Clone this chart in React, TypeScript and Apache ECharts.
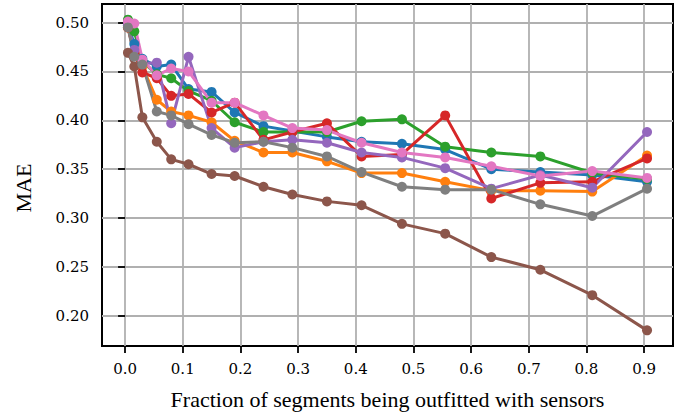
import React, { useEffect, useRef } from "react";
import * as echarts from "echarts";

const fractions = [0.005, 0.016, 0.03, 0.055, 0.08, 0.11, 0.15, 0.19, 0.24, 0.29, 0.35, 0.41, 0.48, 0.555, 0.635, 0.72, 0.81, 0.905];

const blueMAE = [0.497, 0.478, 0.463, 0.455, 0.457, 0.432, 0.429, 0.408, 0.394, 0.389, 0.383, 0.378, 0.376, 0.370, 0.350, 0.347, 0.344, 0.337];
const orangeMAE = [0.495, 0.470, 0.455, 0.421, 0.409, 0.405, 0.398, 0.379, 0.367, 0.367, 0.358, 0.346, 0.346, 0.337, 0.328, 0.328, 0.327, 0.364];
const greenMAE = [0.503, 0.491, 0.460, 0.447, 0.443, 0.430, 0.420, 0.398, 0.388, 0.388, 0.388, 0.399, 0.401, 0.373, 0.367, 0.363, 0.346, 0.340];
const redMAE = [0.495, 0.468, 0.449, 0.443, 0.425, 0.427, 0.408, 0.418, 0.380, 0.388, 0.397, 0.363, 0.365, 0.405, 0.320, 0.336, 0.337, 0.361];
const purpleMAE = [0.497, 0.472, 0.458, 0.459, 0.397, 0.465, 0.392, 0.372, 0.378, 0.380, 0.377, 0.367, 0.362, 0.351, 0.330, 0.344, 0.331, 0.388];
const brownMAE = [0.469, 0.455, 0.403, 0.378, 0.360, 0.355, 0.345, 0.343, 0.332, 0.324, 0.317, 0.313, 0.294, 0.284, 0.260, 0.247, 0.221, 0.185];
const pinkMAE = [0.501, 0.499, 0.462, 0.446, 0.453, 0.450, 0.418, 0.418, 0.405, 0.392, 0.390, 0.377, 0.367, 0.362, 0.353, 0.343, 0.348, 0.341];
const grayMAE = [0.495, 0.465, 0.457, 0.409, 0.405, 0.396, 0.385, 0.377, 0.378, 0.372, 0.363, 0.347, 0.332, 0.329, 0.329, 0.314, 0.302, 0.330];

const xTicks = [0, 0.1, 0.2, 0.3, 0.4, 0.5, 0.6, 0.7, 0.8, 0.9];
const yTicks = [0.2, 0.25, 0.3, 0.35, 0.4, 0.45, 0.5];

const seriesList = [
  { name: "s0", color: "#1f77b4", values: blueMAE },
  { name: "s1", color: "#ff7f0e", values: orangeMAE },
  { name: "s2", color: "#2ca02c", values: greenMAE },
  { name: "s3", color: "#d62728", values: redMAE },
  { name: "s4", color: "#9467bd", values: purpleMAE },
  { name: "s5", color: "#8c564b", values: brownMAE },
  { name: "s6", color: "#e377c2", values: pinkMAE },
  { name: "s7", color: "#7f7f7f", values: grayMAE },
];

const TICK_FONT = "'DejaVu Serif', serif";
const TITLE_FONT = "'Liberation Serif', serif";

export default function App() {
  const ref = useRef<HTMLDivElement>(null);
  useEffect(() => {
    if (!ref.current) return;
    const chart = echarts.init(ref.current, undefined, { renderer: "svg" });
    chart.setOption({
      animation: false,
      backgroundColor: "#ffffff",
      grid: {
        left: 102,
        right: 10,
        top: 4,
        bottom: 68,
        show: true,
        borderColor: "#000",
        borderWidth: 2,
        backgroundColor: "transparent",
        containLabel: false,
      },
      graphic: [
        {
          type: "text",
          x: 23,
          y: 188,
          rotation: Math.PI / 2,
          style: {
            text: "MAE",
            fontFamily: TITLE_FONT,
            fontSize: 22,
            fill: "#000",
            align: "center",
            verticalAlign: "middle",
          },
        },
      ],
      xAxis: {
        type: "value",
        min: -0.04,
        max: 0.95,
        name: "Fraction of segments being outfitted with sensors",
        nameLocation: "middle",
        nameGap: 42,
        nameTextStyle: { fontFamily: TITLE_FONT, fontSize: 22, color: "#000" },
        axisLine: { show: false },
        axisTick: {
          show: true,
          inside: false,
          length: 7,
          customValues: xTicks,
          lineStyle: { color: "#000", width: 1.8 },
        },
        axisLabel: {
          customValues: xTicks,
          formatter: (v: number) => v.toFixed(1),
          fontFamily: TICK_FONT,
          fontSize: 15,
          color: "#000",
          margin: 15,
        },
        splitLine: { show: true, lineStyle: { color: "#b0b0b0", width: 1.8 } },
      },
      yAxis: {
        type: "value",
        min: 0.169,
        max: 0.519,
        axisLine: { show: false },
        axisTick: {
          show: true,
          inside: false,
          length: 7,
          customValues: yTicks,
          lineStyle: { color: "#000", width: 1.8 },
        },
        axisLabel: {
          customValues: yTicks,
          formatter: (v: number) => v.toFixed(2),
          fontFamily: TICK_FONT,
          fontSize: 15,
          color: "#000",
          margin: 13,
        },
        splitLine: { show: true, lineStyle: { color: "#b0b0b0", width: 1.8 } },
      },
      series: seriesList.map((s) => ({
        name: s.name,
        type: "line",
        data: fractions.map((f, i) => [f, s.values[i]]),
        symbol: "circle",
        symbolSize: 10,
        showSymbol: true,
        lineStyle: { color: s.color, width: 3 },
        itemStyle: { color: s.color },
        emphasis: { disabled: true },
      })),
    });
    return () => chart.dispose();
  }, []);
  return (
    <div
      ref={ref}
      style={{ position: "absolute", left: 0, top: 0, width: 683, height: 415 }}
    />
  );
}
